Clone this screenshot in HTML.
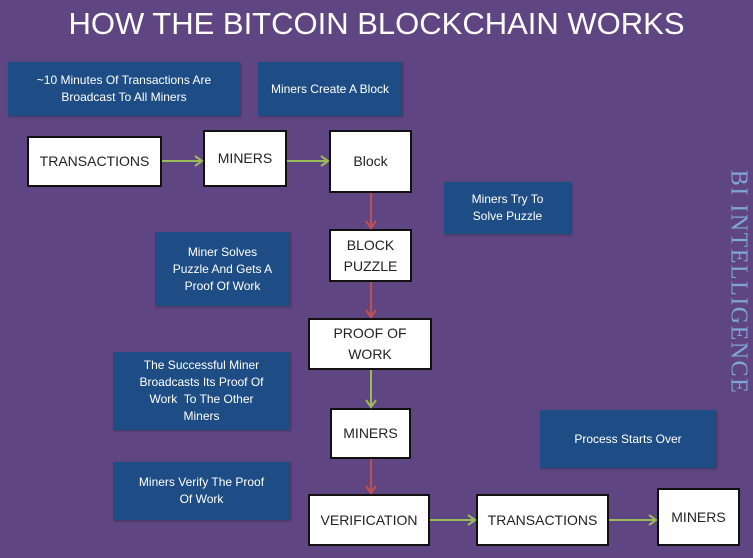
<!DOCTYPE html>
<html><head><meta charset="utf-8"><style>
body{margin:0;width:753px;height:558px;overflow:hidden;background:#5f4682;font-family:"Liberation Sans",sans-serif;position:relative}
.t{position:absolute;left:0;top:6px;width:753px;text-align:center;color:#fff;font-size:31px;letter-spacing:0px}
.b{position:absolute;background:#1e4d85;color:#fff;font-size:12px;line-height:17px;display:flex;align-items:center;justify-content:center;text-align:center;box-shadow:1px 1px 2px rgba(0,0,0,.3)}
.w{position:absolute;background:#fff;border:2px solid #111;box-sizing:border-box;color:#222;font-size:14px;line-height:21px;display:flex;align-items:center;justify-content:center;text-align:center}
.v{position:absolute;left:738px;top:282px;transform:translate(-50%,-50%) rotate(90deg);color:#7fa6d8;font-family:"Liberation Serif",serif;font-size:24px;white-space:nowrap;letter-spacing:1.5px}
svg{position:absolute;left:0;top:0}
</style></head><body>
<div class="t">HOW THE BITCOIN BLOCKCHAIN WORKS</div>
<div class="b" style="left:8px;top:62px;width:232px;height:54px">~10 Minutes Of Transactions Are<br>Broadcast To All Miners</div>
<div class="b" style="left:258px;top:62px;width:144px;height:54px">Miners Create A Block</div>
<div class="b" style="left:444px;top:182px;width:127px;height:52px">Miners Try To<br>Solve Puzzle</div>
<div class="b" style="left:155px;top:232px;width:135px;height:74px">Miner Solves<br>Puzzle And Gets A<br>Proof Of Work</div>
<div class="b" style="left:113px;top:352px;width:177px;height:78px">The Successful Miner<br>Broadcasts Its Proof Of<br>Work&nbsp; To The Other<br>Miners</div>
<div class="b" style="left:540px;top:410px;width:176px;height:58px">Process Starts Over</div>
<div class="b" style="left:113px;top:462px;width:177px;height:58px">Miners Verify The Proof<br>Of Work</div>
<div class="w" style="left:27px;top:136px;width:135px;height:51px">TRANSACTIONS</div>
<div class="w" style="left:203px;top:130px;width:84px;height:57px">MINERS</div>
<div class="w" style="left:329px;top:130px;width:83px;height:63px">Block</div>
<div class="w" style="left:329px;top:229px;width:83px;height:53px">BLOCK<br>PUZZLE</div>
<div class="w" style="left:308px;top:318px;width:124px;height:52px">PROOF OF<br>WORK</div>
<div class="w" style="left:330px;top:408px;width:81px;height:51px">MINERS</div>
<div class="w" style="left:308px;top:494px;width:122px;height:52px">VERIFICATION</div>
<div class="w" style="left:476px;top:494px;width:133px;height:52px">TRANSACTIONS</div>
<div class="w" style="left:657px;top:488px;width:83px;height:58px">MINERS</div>
<div class="v">BI INTELLIGENCE</div>
<svg width="753" height="558">
<g fill="none" stroke-width="2">
<g stroke="#9bbb59"><path d="M162 161H202M195 156l7 5-7 5"/><path d="M287 161H328M321 156l7 5-7 5"/><path d="M430 520H475M468 515l7 5-7 5"/><path d="M609 520H656M649 515l7 5-7 5"/><path d="M371 370V407M366 400l5 7 5-7"/></g>
<g stroke="#c0504d"><path d="M371 193V228M366 221l5 7 5-7"/><path d="M371 282V317M366 310l5 7 5-7"/><path d="M371 459V493M366 486l5 7 5-7"/></g>
</g></svg>
</body></html>
